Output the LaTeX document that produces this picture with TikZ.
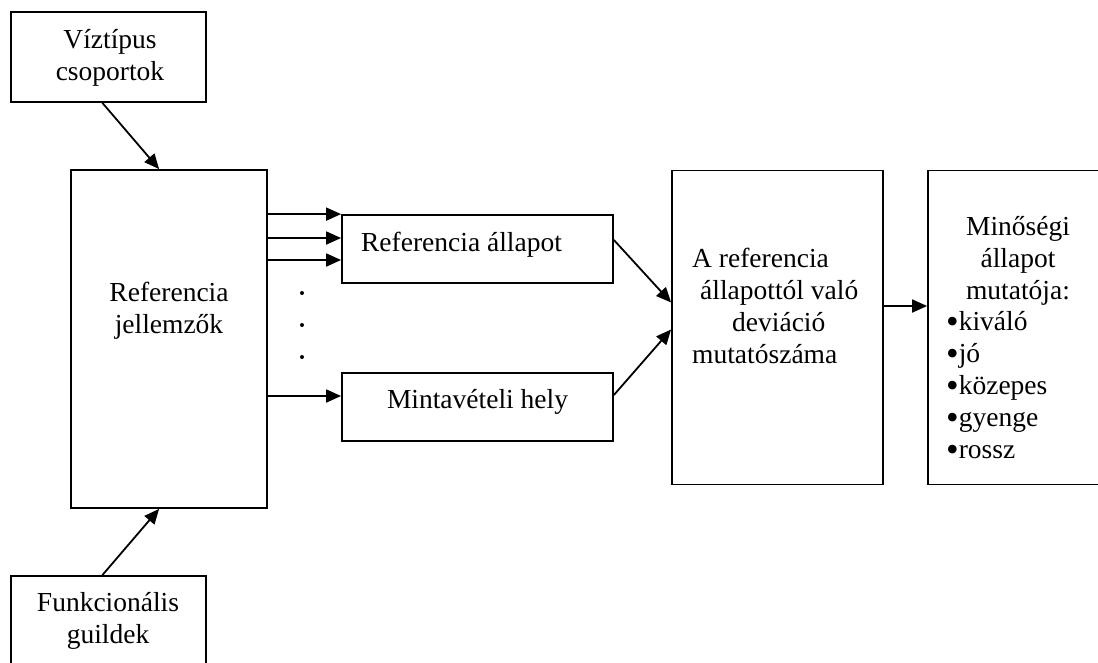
\documentclass[tikz,border=0pt]{standalone}
\usepackage{fontspec}
\setmainfont{Liberation Serif}
\usetikzlibrary{arrows.meta,calc}
\newcommand{\bigbul}{\smash{\raisebox{-3.5pt}{\fontsize{36pt}{32pt}\selectfont•}}}
\begin{document}
\begin{tikzpicture}[x=1pt,y=-1pt,
  box/.style={draw=black,line width=1.8pt,rectangle,inner sep=0pt,minimum width=#1},
  lbl/.style={inner sep=0pt,font=\fontsize{27.5pt}{32pt}\selectfont},
  conn/.style={line width=1.8pt,draw=black},
  arr/.style={conn,-{Triangle[length=15pt,width=13pt]}},
  dot/.style={circle,fill=black,inner sep=0pt,minimum size=4pt}]
\clip (0,0) rectangle (1098,662);
\fill[white] (0,0) rectangle (1098,662);
% boxes
\node[box=195pt,minimum height=90pt] (viz) at (108.5,57) {};
\node[box=196pt,minimum height=338pt] (rj) at (169,339) {};
\node[box=195pt,minimum height=130pt] (fg) at (108.5,641) {};
\node[box=271pt,minimum height=68pt] (ra) at (477.5,249) {};
\node[box=271pt,minimum height=68pt] (mh) at (477.5,407) {};
\node[box=211pt,minimum height=314pt] (ar) at (777.5,327.5) {};
\node[box=200pt,minimum height=314pt] (mq) at (1028,327.5) {};
% texts
\node[lbl,align=center,anchor=base] (tviz) at (110,80) {Víztípus\\csoportok};
\node[lbl,align=center,anchor=base] (trj) at (169,333) {Referencia\\jellemzők};
\node[lbl,align=center,anchor=base] (tfg) at (108,643) {Funkcionális\\guildek};
\node[lbl,anchor=base] (tra) at (461.5,251) {Referencia állapot};
\node[lbl,anchor=base] (tmh) at (477.5,408) {Mintavételi hely};
\node[lbl,align=left,anchor=base west] (tar) at (692,363) {A referencia\\\hspace{8pt}állapottól való\\\hspace{40pt}deviáció\\mutatószáma};
\node[lbl,align=center,anchor=base] (tmq) at (1018,299) {Minőségi\\állapot\\mutatója:};
\node[lbl,align=left,anchor=base west] (tlist) at (946,458) {\bigbul kiváló\\\bigbul jó\\\bigbul közepes\\\bigbul gyenge\\\bigbul rossz};
% dots
\node[dot] (d1) at (302,293) {};
\node[dot] (d2) at (302,325) {};
\node[dot] (d3) at (302,357) {};
% connectors
\draw[arr] ($(viz.south west)!0.469!(viz.south east)$) -- ($(rj.north west)!0.45!(rj.north east)$);
\draw[arr] ($(fg.north west)!0.469!(fg.north east)$) -- ($(rj.south west)!0.45!(rj.south east)$);
\draw[arr] (rj.east |- ra.north west) -- (ra.north west);
\draw[arr] (rj.east |- 0,238) -- (ra.west |- 0,238);
\draw[arr] (rj.east |- 0,260) -- (ra.west |- 0,260);
\draw[arr] (rj.east |- 0,396) -- (mh.west |- 0,396);
\draw[arr] ($(ra.east)+(0,-9)$) -- ($(ar.west)+(0,-25)$);
\draw[arr] ($(mh.east)+(0,-12)$) -- ($(ar.west)+(0,2)$);
\draw[arr] (ar.east |- 0,306) -- (mq.west |- 0,306);
\end{tikzpicture}
\end{document}
